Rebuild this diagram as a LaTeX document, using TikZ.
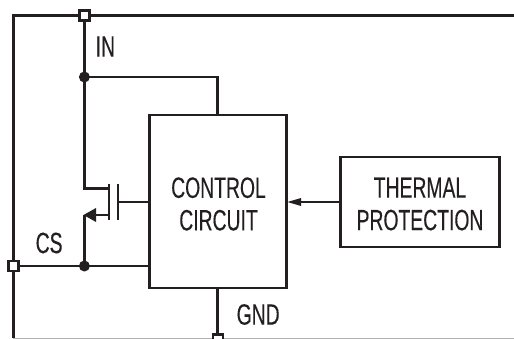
\documentclass[tikz,border=0pt]{standalone}
\usepackage{fontspec}
\setmainfont[FakeStretch=0.66,FakeBold=0.2]{Liberation Sans}
\usetikzlibrary{arrows.meta}
\definecolor{ink}{HTML}{231F20}
\tikzset{
  wire/.style={draw=ink,line width=2.5pt},
  blockbox/.style={draw=ink,line width=2.5pt,fill=white,inner sep=0pt,outer sep=0pt,anchor=north west},
  pin/.style={draw=ink,line width=2.4pt,fill=white,minimum size=10pt,inner sep=0pt,outer sep=0pt,rectangle},
  junction/.style={circle,fill=ink,minimum size=11pt,inner sep=0pt},
  lbl/.style={text=ink,font=\fontsize{29.3}{29.3}\selectfont,inner sep=0pt},
  blocktext/.style={text=ink,font=\fontsize{29.3}{32.5}\selectfont,inner sep=0pt,align=center}
}
\begin{document}
\begin{tikzpicture}[x=1pt,y=-1pt]
\useasboundingbox (0,0) rectangle (514,339);
\fill[white] (0,0) rectangle (514,339);
% outer frame
\coordinate (tl) at (13.4,15.4);
\coordinate (tr) at (514,15.4);
\coordinate (bl) at (13.4,338);
\coordinate (br) at (514,338);
\draw[draw=black!30,line width=0.8pt] (bl) -- (br);
\draw[wire] (bl) -- (tl) -- (tr);
% blocks
\node[blockbox,minimum width=137pt,minimum height=173pt] (ctrl) at (149.5,115.2) {};
\node[blockbox,minimum width=159pt,minimum height=90pt] (therm) at (340.5,157) {};
\node[blocktext] (ctrltext) at (218.5,204) {CONTROL\\CIRCUIT};
\node[blocktext] (thermtext) at (420,204) {THERMAL\\PROTECTION};
% coordinates
\coordinate (indot) at (84.4,77);
\coordinate (rise) at (217.7,77);
\coordinate (risebot) at (217.7,115);
\coordinate (drain) at (84.4,188.5);
\coordinate (drainend) at (109,188.5);
\coordinate (chtop) at (109,184);
\coordinate (chbot) at (109,220);
\coordinate (gtop) at (118,184);
\coordinate (gbot) at (118,220);
\coordinate (gmid) at (118,202);
\coordinate (gend) at (149.5,202);
\coordinate (srcend) at (109,215);
\coordinate (srctip) at (83.5,215);
\coordinate (srccorner) at (84.4,215);
\coordinate (csdot) at (84.4,266);
\coordinate (csend) at (149.5,266);
\coordinate (gndtop) at (217.7,288);
\coordinate (arrtail) at (340.5,202);
\coordinate (arrtip) at (287.5,202);
% pins
\node[pin] (inpin) at (84.4,15.4) {};
\node[pin] (cspin) at (13.4,266) {};
\node[pin] (gndpin) at (217.7,339.5) {};
% wires
\draw[wire] (inpin) -- (indot) -- (drain) -- (drainend);
\draw[wire] (indot) -- (rise) -- (risebot);
\draw[wire] (chtop) -- (chbot);
\draw[wire] (gtop) -- (gbot);
\draw[wire] (gmid) -- (gend);
\draw[wire] (csdot) -- (srccorner);
\draw[wire] (srcend) -- (95,215);
\fill[ink] (srctip) -- (96,208) -- (96,222) -- cycle;
\draw[wire] (cspin) -- (csdot) -- (csend);
\draw[wire] (gndtop) -- (gndpin);
\draw[wire] (arrtail) -- (299,202);
\fill[ink] (arrtip) -- (301,198) -- (301,206) -- cycle;
\node[junction] (j1) at (indot) {};
\node[junction] (j2) at (csdot) {};
% labels
\node[lbl,anchor=west] (inlbl) at (95.5,46.5) {IN};
\node[lbl,anchor=west] (cslbl) at (35.5,243) {CS};
\node[lbl,anchor=west] (gndlbl) at (236.5,314.5) {GND};
\end{tikzpicture}
\end{document}
